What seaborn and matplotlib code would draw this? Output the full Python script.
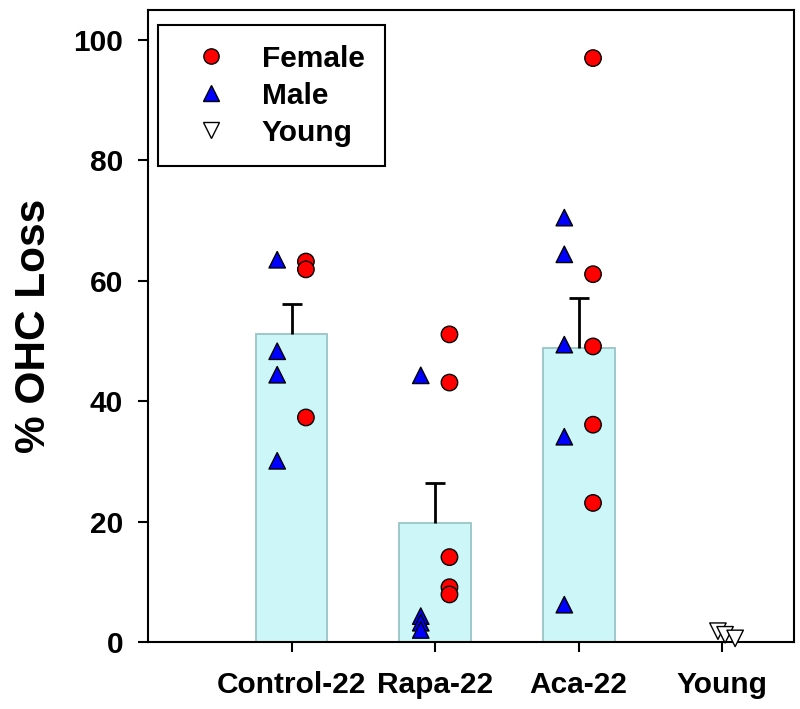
import numpy as np
import pandas as pd
import matplotlib
matplotlib.use('Agg')
import matplotlib.pyplot as plt
import seaborn as sns

# -----------------------

groups = ['Control-22', 'Rapa-22', 'Aca-22', 'Young']

bar_means = [51.2, 19.8, 48.9]
bar_sem = [5.0, 6.6, 8.3]

control_male = [63.5, 48.3, 44.4, 30.1]
control_female = [63.2, 61.9, 37.3]
rapa_male = [44.3, 4.3, 3.2, 2.0]
rapa_female = [51.1, 43.1, 14.1, 9.1, 7.9]
aca_male = [70.5, 64.4, 49.4, 34.1, 6.2]
aca_female = [97.0, 61.1, 49.1, 36.1, 23.1]
young = [1.8, 1.2, 0.6]
young_jitter = [-0.03, 0.02, 0.09]

# -----------------------

sns.set_style('ticks')
plt.rcParams['font.family'] = ['Liberation Sans', 'DejaVu Sans']
plt.rcParams['font.weight'] = 'bold'
plt.rcParams['text.color'] = 'black'
plt.rcParams['axes.labelcolor'] = 'black'
plt.rcParams['axes.linewidth'] = 1.5

sex_offset = {'Male': -0.1, 'Female': 0.1, 'Young': 0.0}

rows = []
for gi, (m, f) in enumerate([(control_male, control_female),
                             (rapa_male, rapa_female),
                             (aca_male, aca_female)]):
	for v in m:
		rows.append((groups[gi], 'Male', v, gi + sex_offset['Male']))
	for v in f:
		rows.append((groups[gi], 'Female', v, gi + sex_offset['Female']))
for v, j in zip(young, young_jitter):
	rows.append(('Young', 'Young', v, 3 + j))

pts = pd.DataFrame(rows, columns=['group', 'sex', 'loss', 'xpos'])
bars = pd.DataFrame({'group': groups[:3], 'mean': bar_means, 'sem': bar_sem})

fig = plt.figure(figsize=(8, 7.09), dpi=100)
ax = fig.add_axes([0.185, 0.0945, 0.8075, 0.8915])

sns.barplot(data=bars, x='group', y='mean', order=groups, width=0.5,
	color='#cdf6f9', saturation=1, edgecolor='#9bc4c6', linewidth=1.3,
	errorbar=None, ax=ax, zorder=1)

# upper error bar only (no cap at the bar top)
eb = ax.errorbar(np.arange(3), bars['mean'], yerr=[np.zeros(3), bars['sem']],
	fmt='none', ecolor='black', elinewidth=2, capsize=7, capthick=2, zorder=2)
eb[1][0].set_visible(False)

sns.scatterplot(data=pts, x='xpos', y='loss', hue='sex', style='sex',
	hue_order=['Female', 'Male', 'Young'], style_order=['Female', 'Male', 'Young'],
	markers={'Female': 'o', 'Male': '^', 'Young': 'v'},
	palette={'Female': '#ff0000', 'Male': '#0000ff', 'Young': 'white'},
	edgecolor='black', linewidth=1, s=140, ax=ax, zorder=3, clip_on=False)

ax.set_xlim(-1, 3.5)
ax.set_ylim(0, 105)
ax.set_xticks(range(4))
ax.set_xticklabels(groups)
ax.set_yticks(range(0, 101, 20))
ax.set_xlabel('')
ax.set_ylabel('% OHC Loss', fontsize=30.5, fontweight='bold', labelpad=14)
ax.tick_params(axis='both', direction='out', length=7, width=1.5, labelsize=21.5,
	colors='black')
ax.tick_params(axis='y', pad=11)
ax.tick_params(axis='x', pad=14)
for s in ax.spines.values():
	s.set_color('black')
	s.set_linewidth(1.5)

handles, labels = ax.get_legend_handles_labels()
for h in handles:
	h.set_markersize(11)
leg = ax.legend(handles, labels, loc='upper left', bbox_to_anchor=(0.0155, 0.976),
	frameon=True, fancybox=False, edgecolor='black', fontsize=21.5,
	borderpad=0.66, handletextpad=0.59, labelspacing=0.3, borderaxespad=0,
	handlelength=2.23, markerscale=1)
leg.get_frame().set_linewidth(1.5)
leg.get_frame().set_alpha(1)
for t in leg.get_texts():
	t.set_fontweight('bold')
	t.set_color('black')

plt.savefig('out.png', dpi=100)
